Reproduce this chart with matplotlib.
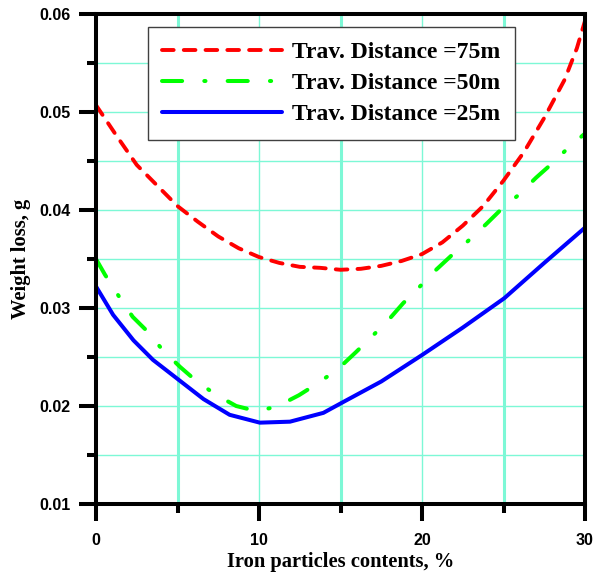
import matplotlib
matplotlib.use("Agg")
import matplotlib.pyplot as plt
from matplotlib.ticker import MultipleLocator

# Data
x75 = [0, 1.25, 2.5, 3.75, 5, 6.25, 7.5, 8.75, 10, 11.25, 12.5, 13.75, 15, 16.25, 17.5,
       18.75, 20, 21.25, 22.5, 23.75, 25, 26.25, 27.5, 28.75, 29.5, 30]
y75 = [0.0507, 0.0476, 0.0446, 0.0425, 0.0404, 0.0388, 0.0373, 0.0361, 0.0352, 0.0346,
       0.0342, 0.0341, 0.0339, 0.0340, 0.0343, 0.0348, 0.0355, 0.0367, 0.0384, 0.0404,
       0.0430, 0.0459, 0.0494, 0.0533, 0.0565, 0.0593]
x50 = [0, 0.55, 1.4, 2.25, 3.1, 4.1, 5.15, 6.05, 7.3, 8.6, 9.8, 11.05, 12.45, 13.4, 14.8,
       15.95, 16.75, 17.9, 18.85, 19.7, 20.8, 21.9, 22.8, 23.9, 25.0, 25.9, 27.0, 28.15,
       29.0, 30]
y50 = [0.0350, 0.0334, 0.0312, 0.0291, 0.0277, 0.0257, 0.0240, 0.0227, 0.0212, 0.0200,
       0.0195, 0.0199, 0.0211, 0.0221, 0.0237, 0.0255, 0.0268, 0.0287, 0.0305, 0.0319,
       0.0338, 0.0355, 0.0368, 0.0385, 0.0403, 0.0415, 0.0433, 0.0450, 0.0464, 0.0478]
x25 = [0, 1.05, 2.3, 3.5, 5.05, 6.6, 8.2, 10.05, 11.9, 13.95, 15.05, 17.5, 20, 22.5,
       25.05, 27.5, 30]
y25 = [0.0322, 0.0293, 0.0267, 0.0247, 0.0227, 0.0207, 0.0191, 0.0183, 0.0184, 0.0193,
       0.0203, 0.0225, 0.0252, 0.0280, 0.0310, 0.0346, 0.0382]
labels = ["Trav. Distance =75m", "Trav. Distance =50m", "Trav. Distance =25m"]

fig = plt.figure(figsize=(6.0, 5.72), dpi=100)
ax = fig.add_axes([0.16, 0.1189, 0.815, 0.8566])

grid_c = "#7DF8D6"
for v in [10, 20]:
    ax.axvline(v, color=grid_c, lw=1.0, zorder=0)
for v in [5, 15, 25]:
    ax.axvline(v, color=grid_c, lw=2.2, zorder=0)
for v in [0.015, 0.02, 0.025, 0.03, 0.035, 0.04, 0.045, 0.05, 0.055]:
    ax.axhline(v, color=grid_c, lw=1.0, zorder=0)

l1, = ax.plot(x75, y75, color="#FF0000", lw=2.8, dashes=(3.0, 2.6),
              dash_capstyle="round", solid_capstyle="round", label=labels[0])
l2, = ax.plot(x50, y50, color="#00FF00", lw=2.9, dashes=(5.0, 5.5, 0.3, 5.5),
              dash_capstyle="round", label=labels[1])
l3, = ax.plot(x25, y25, color="#0000FF", lw=2.9, solid_capstyle="round",
              solid_joinstyle="round", label=labels[2])

ax.set_xlim(0, 30)
ax.set_ylim(0.01, 0.06)
ax.xaxis.set_major_locator(MultipleLocator(10))
ax.xaxis.set_minor_locator(MultipleLocator(5))
ax.yaxis.set_major_locator(MultipleLocator(0.01))
ax.yaxis.set_minor_locator(MultipleLocator(0.005))
ax.xaxis.set_major_formatter(plt.FuncFormatter(lambda v, p: f"{v:.0f}"))
ax.yaxis.set_major_formatter(plt.FuncFormatter(lambda v, p: f"{v:.2f}"))

for s in ax.spines.values():
    s.set_linewidth(2.9)
    s.set_color("black")
ax.tick_params(which="major", direction="out", length=12, width=2.9, pad=6)
ax.tick_params(which="minor", direction="out", length=6.5, width=2.9)
ax.tick_params(axis="x", which="major", pad=9)
for t in ax.get_xticklabels() + ax.get_yticklabels():
    t.set_fontfamily("Liberation Sans")
    t.set_fontweight("bold")
    t.set_fontsize(11.5)

ax.set_xlabel("Iron particles contents, %", fontfamily="Liberation Serif",
              fontweight="bold", fontsize=14.8, labelpad=3)
ax.set_ylabel("Weight loss, g", fontfamily="Liberation Serif",
              fontweight="bold", fontsize=14.8, labelpad=6)

leg = ax.legend(handles=[l1, l2, l3], loc="upper left", bbox_to_anchor=(0.106, 0.973),
                borderaxespad=0, frameon=True, fancybox=False, handlelength=5.1,
                handletextpad=0.42, labelspacing=0.41, borderpad=0.6,
                prop={"family": "Liberation Serif", "weight": "bold", "size": 17})
leg.get_frame().set_edgecolor("#404040")
leg.get_frame().set_linewidth(1.0)
leg.get_frame().set_alpha(1)

fig.savefig("out.png", dpi=100)
